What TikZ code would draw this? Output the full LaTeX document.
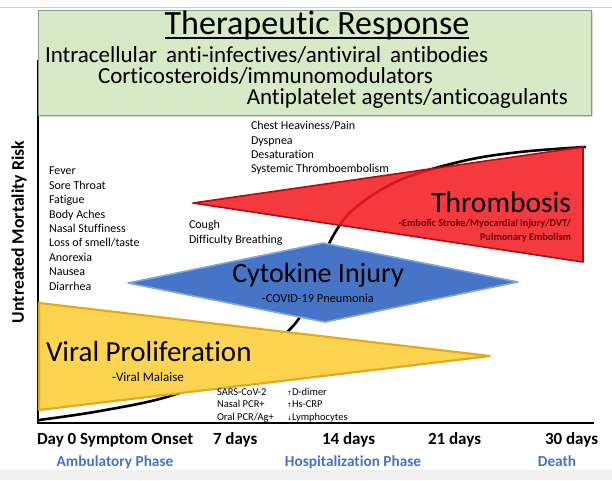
\documentclass[tikz,border=0pt]{standalone}
\usepackage{fontspec}
\setmainfont{Carlito}[RawFeature={-liga;-dlig;-clig}]
\newfontfamily\symfont{DejaVu Sans}
\definecolor{boxgreen}{RGB}{214,234,200}
\definecolor{boxedge}{RGB}{140,150,140}
\definecolor{thrombred}{RGB}{242,30,36}
\definecolor{thrombedge}{RGB}{180,10,15}
\definecolor{cytoblue}{RGB}{70,116,198}
\definecolor{cytoedge}{RGB}{130,165,222}
\definecolor{viralyellow}{RGB}{252,212,80}
\definecolor{viraledge}{RGB}{232,168,30}
\definecolor{phaseblue}{RGB}{68,114,196}
\definecolor{darkredtext}{RGB}{110,0,0}
\definecolor{bandgray}{RGB}{240,240,240}
\begin{document}
\begin{tikzpicture}[x=1pt,y=-1pt,
  every node/.style={inner sep=0pt, outer sep=0pt},
  listtxt/.style={anchor=west, font=\fontsize{12}{13}\selectfont, text height=8.3pt, text depth=2.5pt},
  labtxt/.style={anchor=west, font=\fontsize{10.5}{11}\selectfont, text height=7.3pt, text depth=2.2pt},
  therapy/.style={anchor=west, font=\fontsize{23}{24}\selectfont, text height=15.8pt, text depth=4.8pt},
  daytxt/.style={anchor=west, font=\bfseries\fontsize{17}{18}\selectfont, text height=11.8pt, text depth=3.5pt},
  phasetxt/.style={font=\bfseries\fontsize{15.3}{16}\selectfont, text=phaseblue, text height=10.6pt, text depth=3.2pt},
  bigtxt/.style={font=\fontsize{#1}{#1}\selectfont},
  subtxt/.style={font=\bfseries\fontsize{10.3}{11}\selectfont, text=darkredtext, anchor=east, text height=7.2pt, text depth=2.2pt}
]
\useasboundingbox (0,0) rectangle (612,480);
% background bands
\fill[bandgray] (0,470) rectangle (612,480);
\draw[bandgray!70!gray, line width=0.8] (0,7) -- (612,7);

% axes
\draw[line width=2] (38,60) -- (38,423) -- (594,423);

% mortality curve
\draw[line width=2.6, line cap=round] plot[smooth, tension=0.6] coordinates
  {(39,420) (100,411) (170,396) (240,368) (285,334) (305,308) (320,268) (333,236) (355,208) (400,180) (463,161) (520,152) (585,147)};

% therapeutic response box
\fill[black!15] (40,12) rectangle (593,117);
\draw[boxedge, fill=boxgreen, line width=1] (38,10) rectangle (591,115);
\node[bigtxt=34] (title) at (317,25) {Therapeutic Response};
\draw[line width=1.4] ([yshift=-4pt]title.base west) -- ([yshift=-4pt]title.base east);
\node[therapy] (t1) at (45,57) {Intracellular\, anti-infectives/antiviral\, antibodies};
\node[therapy] (t2) at (98,78) {Corticosteroids/immunomodulators};
\node[therapy, anchor=east] (t3) at (568,99) {Antiplatelet agents/anticoagulants};

% axis label
\node[rotate=90, font=\bfseries\fontsize{17.7}{18}\selectfont] (ylab) at (19,232) {Untreated Mortality Risk};

% viral proliferation (yellow)
\draw[viraledge, line width=2.2, fill=viralyellow, line join=round] (39,303) -- (490,356) -- (39,410) -- cycle;
\node[bigtxt=29, anchor=west] (vp) at (46,352) {Viral Proliferation};
\node[font=\fontsize{13}{14}\selectfont] (vm) at (148,377) {-Viral Malaise};

% cytokine injury (blue)
\draw[cytoedge, line width=1.6, fill=cytoblue, line join=round] (128,283) -- (323,243) -- (518,282) -- (325,322) -- cycle;
\node[bigtxt=28] (ci) at (318,275) {Cytokine Injury};
\node[font=\fontsize{12.3}{13}\selectfont] (cp) at (318,298) {-COVID-19 Pneumonia};

% thrombosis (red)
\draw[thrombedge, line width=1.6, fill=thrombred, fill opacity=0.88, line join=round] (193,203) -- (583,147) -- (583,262) -- cycle;
\node[bigtxt=29.5, anchor=east] (th) at (571,202) {Thrombosis};
\node[subtxt] (th1) at (571,224) {-Embolic Stroke/Myocardial Injury/DVT/};
\node[subtxt] (th2) at (571,238) {Pulmonary Embolism};

% symptom list
\node[listtxt] (s1) at (49,172) {Fever};
\node[listtxt] (s2) at (49,187) {Sore Throat};
\node[listtxt] (s3) at (49,201) {Fatigue};
\node[listtxt] (s4) at (49,216) {Body Aches};
\node[listtxt] (s5) at (49,230) {Nasal Stuffiness};
\node[listtxt] (s6) at (49,244) {Loss of smell/taste};
\node[listtxt] (s7) at (49,259) {Anorexia};
\node[listtxt] (s8) at (49,273) {Nausea};
\node[listtxt] (s9) at (49,288) {Diarrhea};

\node[listtxt] (c1) at (189,226) {Cough};
\node[listtxt] (c2) at (189,241) {Difficulty Breathing};

\node[listtxt] (h1) at (251,127) {Chest Heaviness/Pain};
\node[listtxt] (h2) at (251,142) {Dyspnea};
\node[listtxt] (h3) at (251,156) {Desaturation};
\node[listtxt] (h4) at (251,170) {Systemic Thromboembolism};

% lab findings
\node[labtxt] (l1) at (217,393) {SARS-CoV-2};
\node[labtxt] (l2) at (217,405) {Nasal PCR+};
\node[labtxt] (l3) at (217,418) {Oral PCR/Ag+};
\node[labtxt] (m1) at (287,393) {{\symfont\fontsize{6}{6}\selectfont ↑}D-dimer};
\node[labtxt] (m2) at (287,405) {{\symfont\fontsize{6}{6}\selectfont ↑}Hs-CRP};
\node[labtxt] (m3) at (287,418) {{\symfont\fontsize{6}{6}\selectfont ↓}Lymphocytes};

% day labels
\node[daytxt] (d0) at (37,440) {Day 0 Symptom Onset};
\node[daytxt] (d7) at (213,440) {7 days};
\node[daytxt] (d14) at (322,440) {14 days};
\node[daytxt] (d21) at (428,440) {21 days};
\node[daytxt] (d30) at (545,440) {30 days};

% phase labels
\node[phasetxt] (p1) at (115,463) {Ambulatory Phase};
\node[phasetxt] (p2) at (353,463) {Hospitalization Phase};
\node[phasetxt] (p3) at (557,463) {Death};
\end{tikzpicture}
\end{document}
